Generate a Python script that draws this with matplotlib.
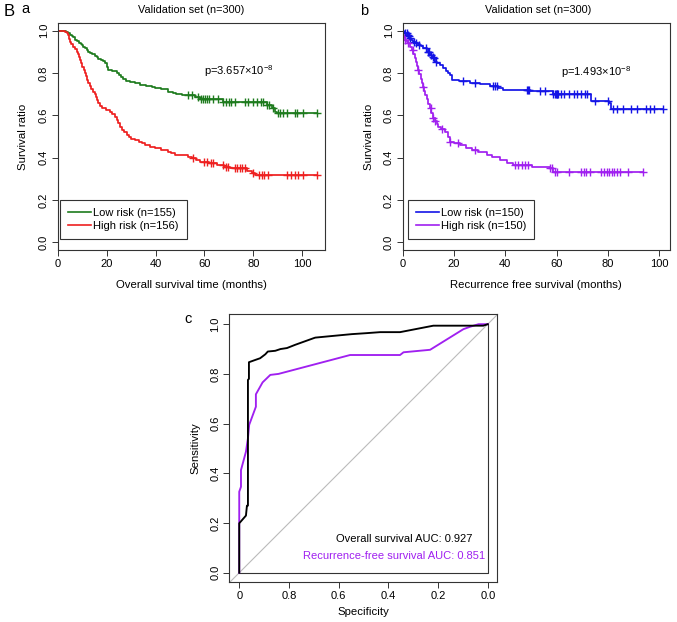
import numpy as np
import matplotlib

matplotlib.use("Agg")

import matplotlib.pyplot as plt  # noqa: E402
from matplotlib.lines import Line2D  # noqa: E402

plt.rcParams["font.family"] = ["Liberation Sans", "DejaVu Sans"]
plt.rcParams["mathtext.fontset"] = "custom"
plt.rcParams["mathtext.rm"] = "Liberation Sans"
plt.rcParams["mathtext.default"] = "regular"

# ---- panel a: overall survival, validation set
os_low_t = [0, 3.2, 4.2, 4.9, 5.6, 6.3, 7.0, 7.8, 8.6, 9.3, 9.7, 10.4, 11.0, 11.7, 12.4,
            13.2, 14.0, 15.0, 16.0, 16.5, 17.5, 18.4, 19.3, 20.0, 20.6, 22.0, 24.0, 25.0,
            25.8, 26.8, 28.0, 29.5, 31.6, 33.5, 36.0, 38.5, 39.8, 42.0, 45.2, 47.0, 48.5,
            50.7, 56.0, 58.2, 67.7, 85.5, 87.5, 89.0, 89.6]
os_low_s = [1.0, 0.994, 0.987, 0.980, 0.974, 0.968, 0.956, 0.949, 0.943, 0.937, 0.930,
            0.923, 0.917, 0.910, 0.900, 0.894, 0.888, 0.881, 0.875, 0.868, 0.862, 0.855,
            0.846, 0.830, 0.814, 0.807, 0.800, 0.790, 0.780, 0.770, 0.764, 0.758, 0.751,
            0.745, 0.738, 0.732, 0.728, 0.722, 0.712, 0.706, 0.700, 0.694, 0.686, 0.678,
            0.664, 0.649, 0.633, 0.617, 0.610]
os_low_cens = [53.4, 55.0, 57.5, 58.5, 59.5, 60.3, 61.0, 61.8, 63.7, 65.5, 67.7, 69.0,
               70.0, 71.0, 72.5, 76.6, 78.0, 80.0, 81.5, 83.0, 84.0, 85.8, 86.5, 88.0,
               90.2, 91.0, 92.0, 93.7, 97.0, 98.0, 100.5, 106.0]

os_high_t = [0, 3.0, 3.6, 4.2, 4.6, 4.9, 5.5, 6.3, 7.0, 7.7, 8.2, 8.6, 9.0, 9.5, 10.0,
             10.5, 11.1, 11.5, 12.0, 12.4, 13.0, 13.6, 14.5, 15.0, 15.5, 15.9, 16.5, 17.2,
             17.9, 19.5, 21.3, 22.3, 23.4, 24.0, 24.7, 25.4, 26.2, 27.0, 28.1, 29.0, 30.0,
             31.6, 33.0, 34.5, 35.7, 37.5, 39.8, 42.0, 45.2, 46.5, 48.0, 53.4, 54.8, 56.5,
             58.2, 62.0, 65.0, 68.0, 70.5, 77.3, 79.5, 80.7]
os_high_s = [1.0, 0.994, 0.988, 0.980, 0.962, 0.948, 0.936, 0.924, 0.912, 0.900, 0.888,
             0.875, 0.862, 0.846, 0.830, 0.815, 0.800, 0.785, 0.768, 0.751, 0.738, 0.725,
             0.712, 0.699, 0.686, 0.672, 0.659, 0.646, 0.633, 0.625, 0.617, 0.605, 0.594,
             0.578, 0.562, 0.546, 0.533, 0.520, 0.507, 0.497, 0.490, 0.483, 0.475, 0.467,
             0.460, 0.452, 0.444, 0.436, 0.428, 0.420, 0.413, 0.405, 0.397, 0.389, 0.381,
             0.373, 0.365, 0.357, 0.350, 0.338, 0.328, 0.318]
os_high_cens = [55.5, 59.7, 61.0, 62.5, 63.7, 67.7, 68.7, 69.7, 72.5, 73.5, 74.5, 75.5,
                76.6, 79.8, 82.5, 83.5, 84.5, 85.9, 93.7, 95.5, 97.0, 98.5, 100.5, 106.0]

# ---- panel b: recurrence free survival, validation set
rfs_low_t = [0, 0.5, 1.0, 1.6, 2.2, 2.8, 3.4, 4.1, 5.0, 6.0, 7.0, 8.0, 9.3, 10.6, 11.3,
             12.0, 12.6, 13.5, 14.5, 15.8, 16.8, 17.6, 18.4, 19.1, 22.0, 26.2, 30.0, 34.0,
             37.0, 39.2, 49.6, 58.6, 73.5, 80.5, 81.3]
rfs_low_s = [1.0, 0.993, 0.987, 0.980, 0.973, 0.966, 0.958, 0.948, 0.941, 0.934, 0.927,
             0.916, 0.900, 0.885, 0.877, 0.869, 0.853, 0.845, 0.837, 0.822, 0.811, 0.800,
             0.790, 0.767, 0.761, 0.754, 0.746, 0.739, 0.730, 0.720, 0.713, 0.700, 0.668,
             0.657, 0.628]
rfs_low_cens = [1.0, 1.5, 2.0, 2.6, 3.0, 4.5, 5.2, 6.5, 9.0, 9.8, 10.3, 11.0, 11.7, 12.3,
                13.0, 23.6, 28.2, 35.3, 36.0, 36.7, 48.5, 49.0, 49.3, 53.5, 55.5, 58.6,
                59.2, 59.6, 60.0, 60.3, 60.6, 61.7, 63.0, 64.9, 66.8, 68.0, 69.5, 71.0,
                72.0, 75.0, 80.0, 82.0, 83.5, 86.0, 88.9, 91.5, 95.0, 96.5, 98.0, 101.5]

rfs_high_t = [0, 0.3, 0.6, 0.9, 1.5, 2.2, 2.8, 3.5, 4.1, 4.8, 5.3, 5.7, 6.1, 6.5, 7.0,
              7.4, 7.8, 8.3, 8.7, 9.3, 10.0, 10.6, 11.2, 11.9, 12.5, 13.2, 13.9, 15.0,
              16.5, 17.5, 18.4, 20.0, 22.3, 24.5, 26.9, 29.5, 32.7, 35.0, 37.9, 40.5,
              43.1, 50.3, 57.4, 58.7]
rfs_high_s = [1.0, 0.980, 0.968, 0.956, 0.948, 0.940, 0.925, 0.909, 0.890, 0.870, 0.851,
              0.833, 0.814, 0.793, 0.772, 0.751, 0.733, 0.714, 0.696, 0.675, 0.654, 0.633,
              0.610, 0.586, 0.573, 0.560, 0.546, 0.535, 0.523, 0.499, 0.475, 0.467, 0.460,
              0.448, 0.436, 0.425, 0.413, 0.401, 0.389, 0.377, 0.365, 0.357, 0.350, 0.334]
rfs_high_cens = [0.9, 2.2, 4.0, 6.1, 8.0, 11.0, 12.0, 12.6, 15.5, 18.4, 21.7, 28.2, 43.8,
                 45.0, 46.4, 47.5, 48.8, 57.4, 58.3, 59.2, 60.0, 65.0, 69.6, 70.5, 71.5,
                 72.9, 77.4, 78.5, 79.5, 80.5, 81.5, 82.5, 83.5, 84.6, 87.8, 93.8]

# ---- panel c: ROC curves (specificity, sensitivity)
os_spec = [1.0, 1.0, 0.973, 0.969, 0.965, 0.965, 0.961, 0.961, 0.936, 0.916, 0.895, 0.885,
           0.855, 0.834, 0.808, 0.775, 0.70, 0.694, 0.621, 0.547, 0.487, 0.433, 0.353,
           0.219, 0.018, 0.0]
os_sens = [0.0, 0.199, 0.23, 0.27, 0.27, 0.776, 0.78, 0.847, 0.856, 0.863, 0.879, 0.890,
           0.893, 0.90, 0.904, 0.917, 0.944, 0.946, 0.953, 0.96, 0.964, 0.968, 0.968,
           0.994, 0.994, 1.0]
rfs_spec = [1.0, 1.0, 0.993, 0.993, 0.973, 0.965, 0.96, 0.933, 0.933, 0.906, 0.875, 0.842,
            0.554, 0.353, 0.339, 0.232, 0.098, 0.07, 0.037, 0.0]
rfs_sens = [0.0, 0.326, 0.346, 0.413, 0.487, 0.541, 0.595, 0.668, 0.718, 0.766, 0.796,
            0.80, 0.876, 0.876, 0.887, 0.897, 0.98, 0.99, 1.0, 1.0]

GREEN = "#1E7B1E"
RED = "#EE2020"
BLUE = "#1414E6"
PURPLE = "#A020F0"
EDGE = "#333333"
FS = 8
LABEL_FS = 8.2


def km_curve(ax, times, surv, cens, color):
    t = np.asarray(times)
    s = np.asarray(surv)
    c = np.asarray(cens)
    end = c.max()
    ax.step(np.append(t, end), np.append(s, s[-1]), where="post", color=color, lw=1.25)
    # censor marks sit on the curve at the censoring time
    idx = np.searchsorted(t, c, side="right") - 1
    ax.plot(c, s[idx], ls="none", marker="+", ms=5.5, mew=1.0, color=color)


def style_axes(ax):
    for sp in ax.spines.values():
        sp.set_color(EDGE)
        sp.set_linewidth(0.8)
    ax.tick_params(direction="out", length=4.5, width=0.7, color=EDGE, labelsize=FS, pad=2)
    for lab in ax.get_yticklabels():
        lab.set_rotation(90)
        lab.set_va("center")


fig = plt.figure(figsize=(6.77, 6.22), dpi=100)
W, H = 677.0, 622.0


def axes_px(l, t, r, b):
    return fig.add_axes([l / W, 1 - b / H, (r - l) / W, (b - t) / H])


yticks = [0.0, 0.2, 0.4, 0.6, 0.8, 1.0]
ytick_labels = ["0.0", "0.2", "0.4", "0.6", "0.8", "1.0"]
legend_kw = dict(loc="lower left", borderaxespad=0, fontsize=FS, fancybox=False,
                 edgecolor=EDGE, framealpha=1, handlelength=2.1, handletextpad=0.2,
                 labelspacing=0.3, borderpad=0.7)

# panel a
ax_a = axes_px(58, 23, 325, 250)
km_curve(ax_a, os_low_t, os_low_s, os_low_cens, GREEN)
km_curve(ax_a, os_high_t, os_high_s, os_high_cens, RED)
ax_a.set_xlim(0, 109.4)
ax_a.set_ylim(-0.036, 1.036)
ax_a.set_xticks([0, 20, 40, 60, 80, 100])
ax_a.set_yticks(yticks, ytick_labels)
style_axes(ax_a)
ax_a.set_xlabel("Overall survival time (months)", fontsize=LABEL_FS, va="center")
ax_a.xaxis.set_label_coords(0.5, -0.154)
ax_a.set_ylabel("Survival ratio", fontsize=LABEL_FS, va="center")
ax_a.yaxis.set_label_coords(-0.131, 0.5)
ax_a.text(59.8, 0.81, r"p=3.657$\times$10$^{-8}$", fontsize=FS, va="center")
leg = ax_a.legend(handles=[Line2D([], [], color=GREEN, lw=1.2), Line2D([], [], color=RED, lw=1.2)],
                  labels=["Low risk (n=155)", "High risk (n=156)"],
                  bbox_to_anchor=(0.0075, 0.05), **legend_kw)
leg.get_frame().set_linewidth(0.8)

# panel b
ax_b = axes_px(402.7, 23, 670, 250)
km_curve(ax_b, rfs_low_t, rfs_low_s, rfs_low_cens, BLUE)
km_curve(ax_b, rfs_high_t, rfs_high_s, rfs_high_cens, PURPLE)
ax_b.set_xlim(0, 104.2)
ax_b.set_ylim(-0.036, 1.036)
ax_b.set_xticks([0, 20, 40, 60, 80, 100])
ax_b.set_yticks(yticks, ytick_labels)
style_axes(ax_b)
ax_b.set_xlabel("Recurrence free survival (months)", fontsize=LABEL_FS, va="center")
ax_b.xaxis.set_label_coords(0.5, -0.154)
ax_b.set_ylabel("Survival ratio", fontsize=LABEL_FS, va="center")
ax_b.yaxis.set_label_coords(-0.126, 0.5)
ax_b.text(61.7, 0.806, r"p=1.493$\times$10$^{-8}$", fontsize=FS, va="center")
leg = ax_b.legend(handles=[Line2D([], [], color=BLUE, lw=1.2), Line2D([], [], color=PURPLE, lw=1.2)],
                  labels=["Low risk (n=150)", "High risk (n=150)"],
                  bbox_to_anchor=(0.019, 0.05), **legend_kw)
leg.get_frame().set_linewidth(0.8)

# panel c
ax_c = axes_px(229.3, 314, 496.7, 581.7)
ax_c.plot([1.04, -0.04], [-0.04, 1.04], color="#BBBBBB", lw=0.8)
ax_c.plot([1.0, 0.0, 0.0], [0.0, 0.0, 1.0], color=EDGE, lw=0.8)
ax_c.plot(rfs_spec, rfs_sens, color=PURPLE, lw=1.35)
ax_c.plot(os_spec, os_sens, color="black", lw=1.35)
ax_c.set_xlim(1.04, -0.036)
ax_c.set_ylim(-0.036, 1.041)
ax_c.set_xticks([1.0, 0.8, 0.6, 0.4, 0.2, 0.0], ["0", "0.8", "0.6", "0.4", "0.2", "0.0"])
ax_c.set_yticks(yticks, ytick_labels)
style_axes(ax_c)
ax_c.set_xlabel("Specificity", fontsize=LABEL_FS, va="center")
ax_c.xaxis.set_label_coords(0.5, -0.112)
ax_c.set_ylabel("Sensitivity", fontsize=LABEL_FS, va="center")
ax_c.yaxis.set_label_coords(-0.126, 0.5)
ax_c.text(0.060, 0.134, "Overall survival AUC: 0.927", fontsize=FS, ha="right", va="center",
          color="black")
ax_c.text(0.011, 0.067, "Recurrence-free survival AUC: 0.851", fontsize=FS, ha="right",
          va="center", color=PURPLE)

# titles and panel letters
fig.text(191.5 / W, 1 - 10 / H, "Validation set (n=300)", fontsize=7.8, ha="center", va="center")
fig.text(538 / W, 1 - 10 / H, "Validation set (n=300)", fontsize=7.8, ha="center", va="center")
fig.text(9 / W, 1 - 11 / H, "B", fontsize=12, ha="center", va="center")
fig.text(25.5 / W, 1 - 9 / H, "a", fontsize=10.5, ha="center", va="center")
fig.text(364 / W, 1 - 11 / H, "b", fontsize=10.5, ha="center", va="center")
fig.text(188.5 / W, 1 - 319 / H, "c", fontsize=10.5, ha="center", va="center")

fig.savefig("out.png", dpi=100)
